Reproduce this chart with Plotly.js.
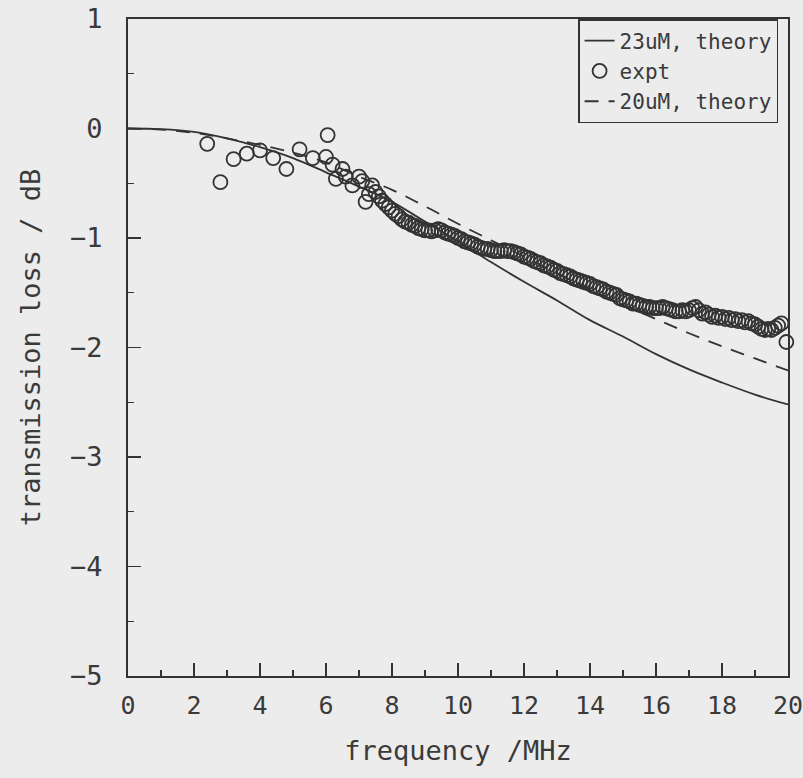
<!DOCTYPE html>
<html><head><meta charset="utf-8">
<script src="https://cdn.plot.ly/plotly-3.0.1.min.js"></script>
<style>body{margin:0;background:#ececec}</style>
</head><body>
<div id="chart" style="width:803px;height:778px"></div>
<script>
// theory 23uM
const theory23F = [0,1,2,3,4,5,6,7,8,9,10,11,12,13,14,15,16,17,18,19,20];
const theory23V = [0,-0.005,-0.03,-0.09,-0.17,-0.27,-0.40,-0.53,-0.67,-0.85,-1.03,-1.22,-1.40,-1.57,-1.75,-1.90,-2.06,-2.20,-2.32,-2.43,-2.52];
// theory 20uM
const theory20F = [0,1,2,3,4,5,6,7,8,9,10,11,12,13,14,15,16,17,18,19,20];
const theory20V = [0,-0.01,-0.04,-0.09,-0.15,-0.22,-0.31,-0.44,-0.56,-0.71,-0.87,-1.02,-1.17,-1.32,-1.47,-1.61,-1.74,-1.87,-1.99,-2.10,-2.21];
// experiment
const exptF = [2.4,2.8,3.2,3.6,4.0,4.4,4.8,5.2,5.6,6.0,6.05,6.2,6.3,6.5,6.6,6.8,7.0,7.1,7.2,7.3,7.4,7.5,7.6,7.7,7.8,7.9,
 8.0,8.1,8.2,8.3,8.4,8.5,8.6,8.7,8.8,8.9,9.0,9.1,9.2,9.3,9.4,9.5,9.6,9.7,9.8,9.9,
 10.0,10.1,10.2,10.3,10.4,10.5,10.6,10.7,10.8,10.9,11.0,11.1,11.2,11.3,11.4,11.5,11.6,11.7,11.8,11.9,
 12.0,12.1,12.2,12.3,12.4,12.5,12.6,12.7,12.8,12.9,13.0,13.1,13.2,13.3,13.4,13.5,13.6,13.7,13.8,13.9,
 14.0,14.1,14.2,14.3,14.4,14.5,14.6,14.7,14.8,14.9,15.0,15.1,15.2,15.3,15.4,15.5,15.6,15.7,15.8,15.9,
 16.0,16.1,16.2,16.3,16.4,16.5,16.6,16.7,16.8,16.9,17.0,17.1,17.2,17.3,17.4,17.5,17.6,17.7,17.8,17.9,
 18.0,18.1,18.2,18.3,18.4,18.5,18.6,18.7,18.8,18.9,19.0,19.1,19.2,19.3,19.4,19.5,19.6,19.7,19.8,19.95];
const exptV = [-0.14,-0.49,-0.28,-0.23,-0.20,-0.27,-0.37,-0.19,-0.27,-0.26,-0.06,-0.33,-0.46,-0.37,-0.44,-0.52,-0.44,-0.48,-0.67,-0.60,-0.52,-0.58,-0.62,-0.66,-0.69,-0.72,
 -0.75,-0.78,-0.80,-0.83,-0.85,-0.86,-0.88,-0.89,-0.91,-0.92,-0.93,-0.93,-0.94,-0.93,-0.92,-0.93,-0.95,-0.96,-0.97,-0.98,
 -1.00,-1.01,-1.03,-1.04,-1.05,-1.06,-1.08,-1.09,-1.10,-1.10,-1.11,-1.12,-1.12,-1.12,-1.11,-1.12,-1.12,-1.13,-1.14,-1.15,
 -1.17,-1.18,-1.19,-1.21,-1.22,-1.23,-1.25,-1.26,-1.27,-1.29,-1.30,-1.32,-1.33,-1.34,-1.35,-1.37,-1.38,-1.39,-1.40,-1.41,
 -1.42,-1.44,-1.45,-1.46,-1.47,-1.49,-1.50,-1.51,-1.52,-1.55,-1.56,-1.57,-1.58,-1.60,-1.60,-1.61,-1.62,-1.63,-1.63,-1.64,
 -1.64,-1.64,-1.63,-1.64,-1.65,-1.66,-1.67,-1.67,-1.66,-1.67,-1.66,-1.64,-1.63,-1.66,-1.69,-1.68,-1.70,-1.72,-1.71,-1.73,
 -1.72,-1.74,-1.73,-1.75,-1.74,-1.76,-1.75,-1.77,-1.76,-1.78,-1.79,-1.81,-1.83,-1.84,-1.83,-1.84,-1.82,-1.80,-1.78,-1.95];
const xTicks = [0,2,4,6,8,10,12,14,16,18,20];
const xTickText = ['0','2','4','6','8','10','12','14','16','18','20'];
const yTicks = [1,0,-1,-2,-3,-4,-5];

const ink = '#333333';
const font = {family: 'DejaVu Sans Mono, monospace', color: '#3a3a3a'};

const traces = [
  {x: theory23F, y: theory23V, mode: 'lines', name: '23uM, theory', line: {color: ink, width: 1.8, shape: 'spline'}},
  {x: exptF, y: exptV, mode: 'markers', name: 'expt', cliponaxis: false,
   marker: {symbol: 'circle-open', size: 14, color: ink, line: {width: 1.8, color: ink}}},
  {x: theory20F, y: theory20V, mode: 'lines', name: '20uM, theory', line: {color: ink, width: 1.8, dash: '14px,10px', shape: 'spline'}}
];

const layout = {
  width: 803, height: 778,
  margin: {l: 128, r: 15, t: 19, b: 102},
  paper_bgcolor: '#ececec', plot_bgcolor: '#ececec',
  font: Object.assign({size: 26}, font),
  showlegend: true,
  legend: {x: 0.985, y: 1, xanchor: 'right', yanchor: 'top', bgcolor: 'rgba(0,0,0,0)',
           bordercolor: ink, borderwidth: 1.5, font: Object.assign({size: 21}, font),
           itemwidth: 30, tracegroupgap: 0},
  xaxis: {range: [0, 20], tickvals: xTicks, ticktext: xTickText, ticks: 'inside', ticklen: 13, tickwidth: 1.5, tickcolor: ink,
          minor: {dtick: 1, ticks: 'inside', ticklen: 6, tickcolor: ink, tickwidth: 1.2},
          showline: true, mirror: true, linecolor: ink, linewidth: 2, showgrid: false, zeroline: false,
          ticklabeloverflow: 'allow', ticklabelstandoff: 6,
          tickfont: Object.assign({size: 25}, font),
          title: {text: 'frequency /MHz', font: Object.assign({size: 27}, font), standoff: 22}},
  yaxis: {range: [-5, 1], tickvals: yTicks, ticks: 'inside', ticklen: 13, tickwidth: 1.5, tickcolor: ink,
          minor: {dtick: 0.5, ticks: 'inside', ticklen: 6, tickcolor: ink, tickwidth: 1.2},
          showline: true, mirror: true, linecolor: ink, linewidth: 2, showgrid: false, zeroline: false,
          ticklabeloverflow: 'allow', ticklabelstandoff: 18,
          tickfont: Object.assign({size: 27}, font),
          title: {text: 'transmission loss / dB', font: Object.assign({size: 27}, font), standoff: 22}}
};

Plotly.newPlot('chart', traces, layout, {displayModeBar: false, staticPlot: true});
</script>
</body></html>
